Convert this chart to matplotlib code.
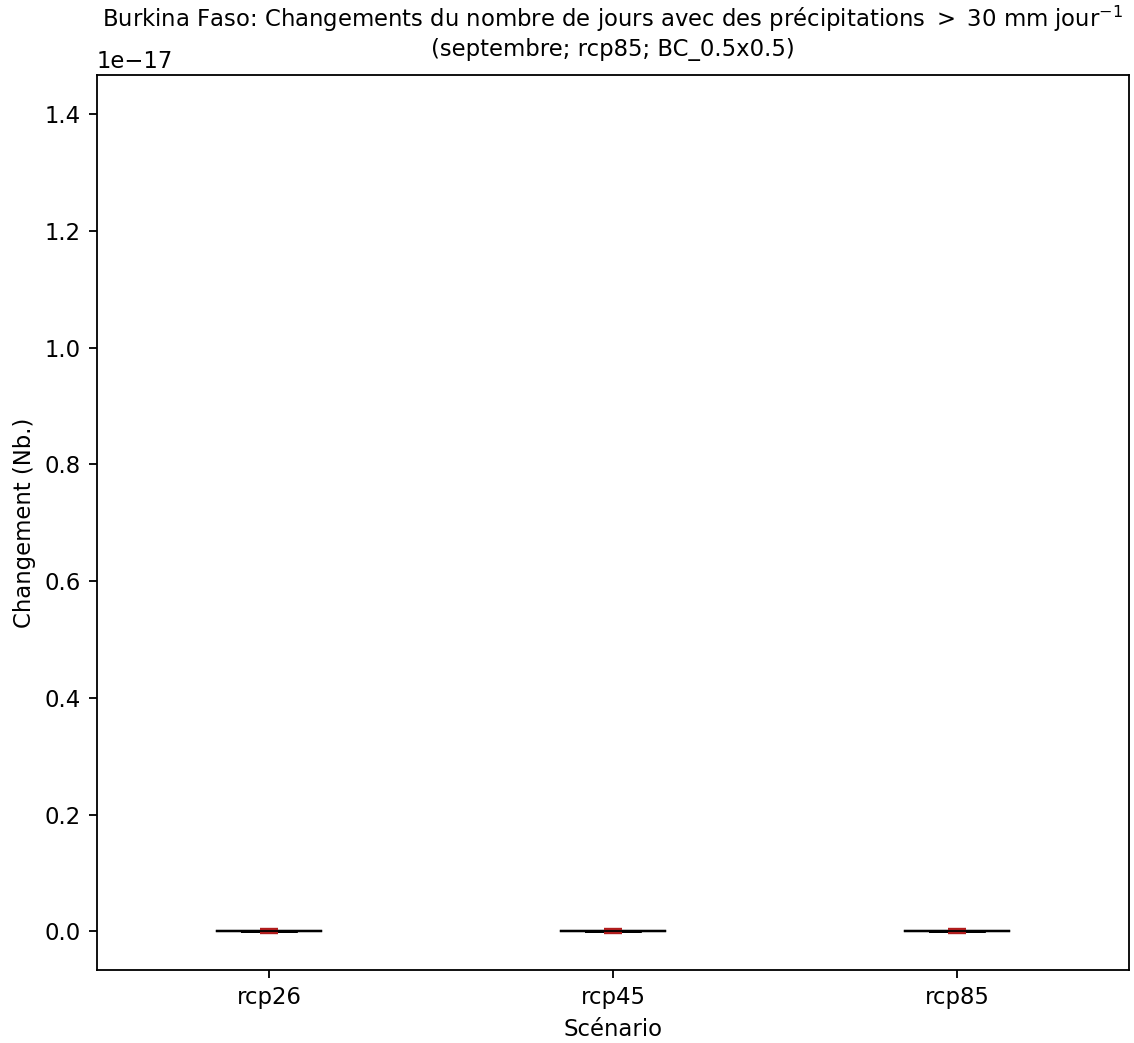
import matplotlib
matplotlib.use("Agg")
import matplotlib.pyplot as plt
import numpy as np

scenarios = ["rcp26", "rcp45", "rcp85"]
rcp26_values = [0.0, 0.0, 0.0, 0.0, 0.0]
rcp45_values = [0.0, 0.0, 0.0, 0.0, 0.0]
rcp85_values = [0.0, 0.0, 0.0, 0.0, 0.0]
y_limits = [-0.0664e-17, 1.467e-17]
y_ticks = [0.0, 0.2e-17, 0.4e-17, 0.6e-17, 0.8e-17, 1.0e-17, 1.2e-17, 1.4e-17]

DPI = 164
fig = plt.figure(figsize=(1134 / DPI, 1043 / DPI), dpi=DPI)
ax = fig.add_axes([97 / 1134, 73 / 1043, 1032 / 1134, 895 / 1043])

data = [rcp26_values, rcp45_values, rcp85_values]
positions = list(range(len(scenarios)))
ax.boxplot(data, positions=positions, widths=0.157, capwidths=0.3,
           showmeans=False, showfliers=False,
           boxprops=dict(color="black", linewidth=1.3),
           whiskerprops=dict(color="black", linewidth=1.0),
           capprops=dict(color="black", linewidth=1.0),
           medianprops=dict(color="black", linewidth=0.8, zorder=4))
# mean markers (red)
means = [np.mean(d) for d in data]
ax.plot(positions, means, linestyle="none", marker="_", markersize=7.5,
        markeredgewidth=2.8, color="#b01c1c", zorder=3)

ax.set_xlim(-0.5, 2.5)
ax.set_xticks(positions)
ax.set_xticklabels(scenarios, fontsize=10)
ax.set_ylim(*y_limits)
ax.set_yticks(y_ticks)
ax.tick_params(axis="y", labelsize=10)
ax.yaxis.get_offset_text().set_fontsize(10)
ax.set_xlabel("Scénario", fontsize=10)
ax.set_ylabel("Changement (Nb.)", fontsize=10)
ax.set_title("Burkina Faso: Changements du nombre de jours avec des précipitations $>$ 30 mm jour$^{-1}$\n(septembre; rcp85; BC_0.5x0.5)",
             fontsize=10, y=1.0, pad=8.5)

fig.savefig("out.png", dpi=DPI)
